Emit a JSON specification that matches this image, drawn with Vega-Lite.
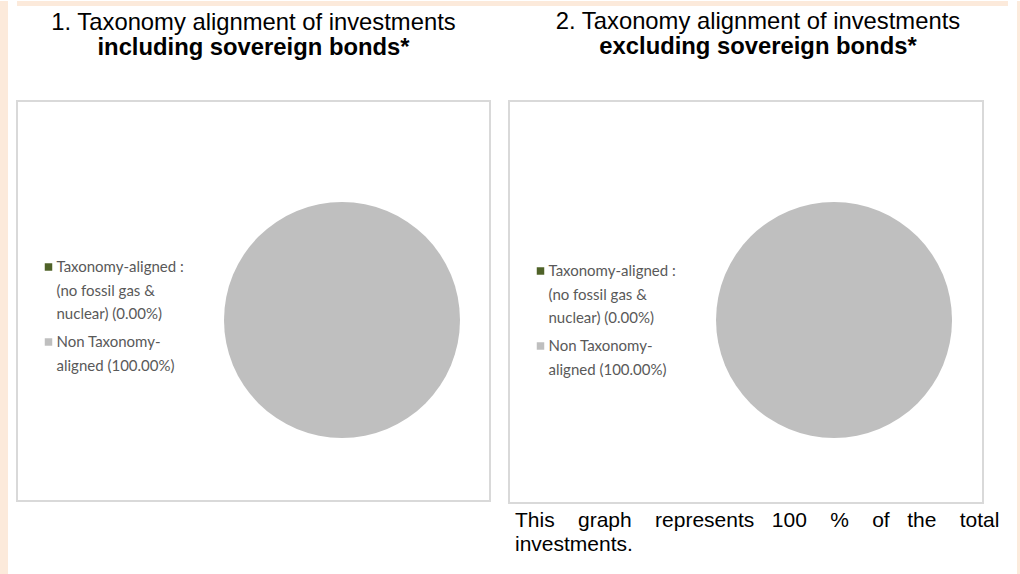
{
  "$schema": "https://vega.github.io/schema/vega-lite/v6.json",
  "background": "white",
  "padding": 0,
  "spacing": 8,
  "resolve": {"scale": {"color": "independent"}, "legend": {"color": "independent"}},
  "datasets": {
    "incl": [
      {"category": "Taxonomy-aligned : (no fossil gas & nuclear) (0.00%)", "share": 0},
      {"category": "Non Taxonomy-aligned (100.00%)", "share": 100}
    ],
    "excl": [
      {"category": "Taxonomy-aligned : (no fossil gas & nuclear) (0.00%)", "share": 0},
      {"category": "Non Taxonomy-aligned (100.00%)", "share": 100}
    ],
    "note": [
      {"text": "This \u00a0\u00a0\u00a0graph \u00a0\u00a0\u00a0represents \u00a0\u00a0100 \u00a0\u00a0\u00a0% \u00a0\u00a0\u00a0of \u00a0\u00a0the \u00a0\u00a0\u00a0total\ninvestments."}
    ],
    "blank": [{}]
  },
  "config": {
    "title": {
      "font": "Liberation Sans",
      "fontSize": 23.8,
      "fontWeight": "normal",
      "color": "#000000",
      "subtitleFont": "Liberation Sans",
      "subtitleFontSize": 23.8,
      "subtitleFontWeight": "bold",
      "subtitleColor": "#000000",
      "subtitlePadding": 1,
      "anchor": "middle",
      "offset": 41
    },
    "legend": {
      "orient": "none",
      "padding": 0,
      "title": null,
      "symbolType": "square",
      "symbolSize": 56,
      "symbolStrokeWidth": 0,
      "symbolOpacity": 1,
      "labelFont": "Lato",
      "labelFontSize": 15,
      "labelColor": "#595959",
      "labelOffset": 0.5,
      "labelLimit": 300,
      "labelBaseline": "alphabetic",
      "rowPadding": 12
    }
  },
  "hconcat": [
    {
      "width": 8,
      "height": 574,
      "view": {"fill": "#FCEADB", "stroke": null},
      "data": {"name": "blank"},
      "mark": {"type": "point", "opacity": 0}
    },
    {
      "spacing": 3,
      "resolve": {"scale": {"color": "independent"}, "legend": {"color": "independent"}},
      "vconcat": [
        {
          "width": 991,
          "height": 5,
          "view": {"fill": "#FCEADB", "stroke": null},
          "data": {"name": "blank"},
          "mark": {"type": "point", "opacity": 0}
        },
        {
          "spacing": 17,
          "resolve": {"scale": {"color": "independent"}, "legend": {"color": "independent"}},
          "hconcat": [
            {
              "title": {
                "text": "1. Taxonomy alignment of investments",
                "subtitle": "including sovereign bonds*"
              },
              "width": 473,
              "height": 400,
              "view": {"stroke": "#D9D9D9", "strokeWidth": 2},
              "data": {"name": "incl"},
              "mark": {"type": "arc", "radius": 118},
              "encoding": {
                "x": {"datum": 0.6871, "type": "quantitative", "scale": {"domain": [0, 1], "nice": false, "zero": false}, "axis": null},
                "y": {"datum": 0.5475, "type": "quantitative", "scale": {"domain": [0, 1], "nice": false, "zero": false, "reverse": true}, "axis": null},
                "theta": {"field": "share", "type": "quantitative", "stack": true},
                "order": {"field": "share", "type": "quantitative", "sort": "ascending"},
                "color": {
                  "field": "category",
                  "type": "nominal",
                  "scale": {
                    "domain": ["Taxonomy-aligned : (no fossil gas & nuclear) (0.00%)", "Non Taxonomy-aligned (100.00%)"],
                    "range": ["#4F6228", "#BFBFBF"]
                  },
                  "legend": {
                    "legendX": 24,
                    "legendY": 158.5,
                    "labelExpr": "datum.label == 'Non Taxonomy-aligned (100.00%)' ? ['Non Taxonomy-', 'aligned (100.00%)'] : ['Taxonomy-aligned :', '(no fossil gas &', 'nuclear) (0.00%)']",
                    "encode": {"labels": {"update": {"lineHeight": {"value": 23.5}, "dy": {"value": 5}}}}
                  }
                }
              }
            },
            {
              "title": {
                "text": "2. Taxonomy alignment of investments",
                "subtitle": "excluding sovereign bonds*"
              },
              "spacing": 6,
              "vconcat": [
                {
                  "width": 474,
                  "height": 402,
                  "view": {"stroke": "#D9D9D9", "strokeWidth": 2},
                  "data": {"name": "excl"},
                  "mark": {"type": "arc", "radius": 118},
                  "encoding": {
                    "x": {"datum": 0.6857, "type": "quantitative", "scale": {"domain": [0, 1], "nice": false, "zero": false}, "axis": null},
                    "y": {"datum": 0.5448, "type": "quantitative", "scale": {"domain": [0, 1], "nice": false, "zero": false, "reverse": true}, "axis": null},
                    "theta": {"field": "share", "type": "quantitative", "stack": true},
                    "order": {"field": "share", "type": "quantitative", "sort": "ascending"},
                    "color": {
                      "field": "category",
                      "type": "nominal",
                      "scale": {
                        "domain": ["Taxonomy-aligned : (no fossil gas & nuclear) (0.00%)", "Non Taxonomy-aligned (100.00%)"],
                        "range": ["#4F6228", "#BFBFBF"]
                      },
                      "legend": {
                        "legendX": 24,
                        "legendY": 162.5,
                        "labelExpr": "datum.label == 'Non Taxonomy-aligned (100.00%)' ? ['Non Taxonomy-', 'aligned (100.00%)'] : ['Taxonomy-aligned :', '(no fossil gas &', 'nuclear) (0.00%)']",
                        "encode": {"labels": {"update": {"lineHeight": {"value": 23.5}, "dy": {"value": 5}}}}
                      }
                    }
                  }
                },
                {
                  "width": 499,
                  "height": 55,
                  "view": {"stroke": null},
                  "data": {"name": "note"},
                  "mark": {
                    "type": "text",
                    "align": "left",
                    "baseline": "top",
                    "x": 6,
                    "y": 0,
                    "font": "Liberation Sans",
                    "fontSize": 21,
                    "lineHeight": 24,
                    "lineBreak": "\n",
                    "color": "#000000"
                  },
                  "encoding": {"text": {"field": "text"}}
                }
              ]
            }
          ]
        }
      ]
    },
    {
      "width": 5,
      "height": 574,
      "view": {"fill": "#FCEADB", "stroke": null},
      "data": {"name": "blank"},
      "mark": {"type": "point", "opacity": 0}
    }
  ]
}
